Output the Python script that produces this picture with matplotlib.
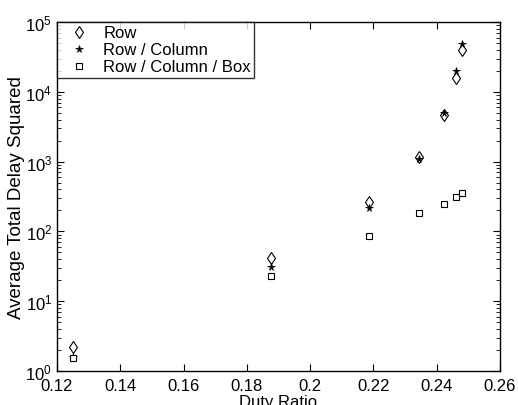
import numpy as np
import matplotlib
matplotlib.use("Agg")
import matplotlib.pyplot as plt

plt.rcParams['font.family'] = ['Liberation Sans', 'DejaVu Sans']
plt.rcParams['mathtext.fontset'] = 'custom'
plt.rcParams['mathtext.rm'] = 'Liberation Sans'
plt.rcParams['mathtext.it'] = 'Liberation Sans'

# duty ratios
duty = [0.125, 0.1875, 0.21875, 0.234375, 0.2421875, 0.24609375, 0.248046875]

row = [2.2, 42, 262, 1180, 4650, 16000, 40000]
row_col = [1.6, 31, 215, 1100, 5050, 19800, 49000]
row_col_box = [1.55, 23, 86, 185, 245, 312, 360]

labels = ['Row', 'Row / Column', 'Row / Column / Box']

fig = plt.figure(figsize=(5.18, 4.06), dpi=100)
ax = fig.add_axes([0.110, 0.084, 0.855, 0.859])

ax.semilogy(duty, row, 'd', mfc='white', mec='black', ms=6.5, mew=0.8,
            label=labels[0], linestyle='none')
ax.semilogy(duty, row_col, '*', mfc='black', mec='black', ms=5.5, mew=0.5,
            label=labels[1], linestyle='none')
ax.semilogy(duty, row_col_box, 's', mfc='white', mec='black', ms=5, mew=0.8,
            label=labels[2], linestyle='none')

ax.set_xlim(0.12, 0.26)
ax.set_ylim(1, 1e5)
ax.set_xticks(np.arange(0.12, 0.261, 0.02))
ax.set_xticklabels(['0.12', '0.14', '0.16', '0.18', '0.2', '0.22', '0.24', '0.26'])

ax.tick_params(which='both', direction='in', top=True, right=True,
               labelsize=12, colors='black')
ax.tick_params(which='major', length=5)
ax.tick_params(which='minor', length=3)
ax.tick_params(axis='x', pad=5)
for s in ax.spines.values():
    s.set_linewidth(1.0)

ax.set_xlabel('Duty Ratio', fontsize=12, labelpad=1)
ax.set_ylabel('Average Total Delay Squared', fontsize=13.5, labelpad=0)

leg = ax.legend(loc='upper left', fontsize=12, frameon=True, fancybox=False,
                edgecolor='black', borderaxespad=0, handletextpad=0.32,
                labelspacing=0.12, borderpad=0.2, handlelength=2.25)
leg.get_frame().set_linewidth(1.0)

fig.savefig('out.png', dpi=100)
